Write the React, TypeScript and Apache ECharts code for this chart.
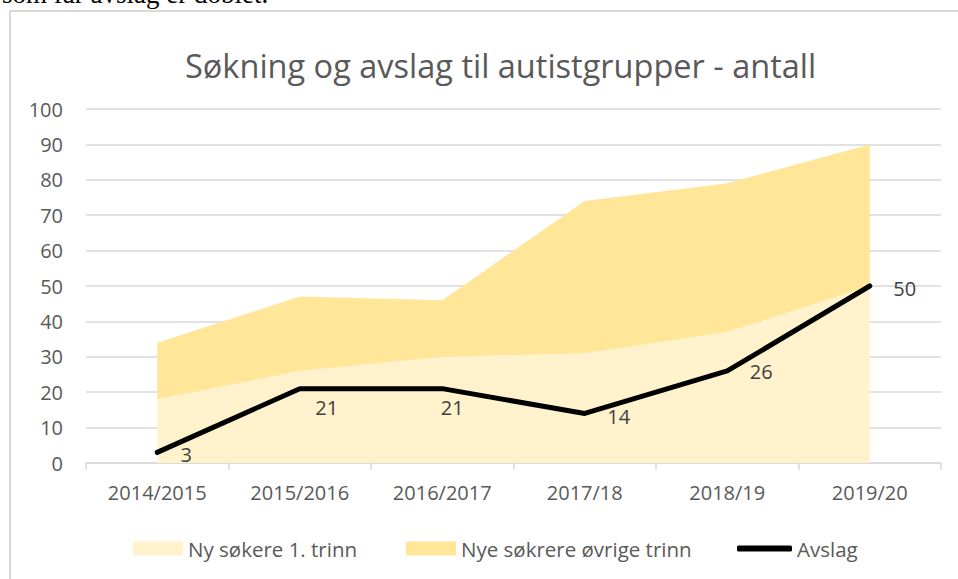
import React, { useEffect, useRef } from "react";
import * as echarts from "echarts";

const categories = ["2014/2015", "2015/2016", "2016/2017", "2017/18", "2018/19", "2019/20"];
const nySokere1Trinn = [18, 26, 30, 31, 37, 50];
const nyeSokrereOvrige = [16, 21, 16, 43, 42, 40];
const avslag = [3, 21, 21, 14, 26, 50];
const yTicks = { min: 0, max: 100, interval: 10 };

const titleText = "Søkning og avslag til autistgrupper - antall";
const seriesNames = ["Ny søkere 1. trinn", "Nye søkrere øvrige trinn", "Avslag"];
const aboveText = "som får avslag er doblet.";

// label offsets (style only)
const labelOffsets: [number, number][] = [
  [29, 2],
  [27, 19],
  [10, 19],
  [34, 3],
  [34, 1],
  [35, 2],
];

const FONT = "Open Sans";
const GRAY = "#595959";
const GRID = "#d9d9d9";

export default function App() {
  const ref = useRef<HTMLDivElement>(null);
  useEffect(() => {
    if (!ref.current) return;
    const chart = echarts.init(ref.current, null, { renderer: "svg" });
    const legendText = { color: GRAY, fontSize: 20.5, fontFamily: FONT, padding: [0, 0, 0, 0] };
    chart.setOption({
      animation: false,
      backgroundColor: "#ffffff",
      textStyle: { fontFamily: FONT },
      title: {
        text: titleText,
        left: 185,
        top: 49,
        padding: 0,
        textStyle: { color: GRAY, fontSize: 32.5, fontWeight: "normal", fontFamily: FONT },
      },
      graphic: [
        {
          type: "rect",
          shape: { x: 10, y: 11, width: 1000, height: 600 },
          style: { fill: "none", stroke: GRID, lineWidth: 2 },
          silent: true,
          z: -1,
        },
        {
          type: "text",
          x: 2,
          y: 7,
          style: {
            text: aboveText,
            font: '27px "Liberation Serif", serif',
            fill: "#000",
            textVerticalAlign: "bottom",
          },
          silent: true,
        },
      ],
      legend: [
        {
          data: [{ name: seriesNames[0], icon: "rect" }],
          left: 133,
          top: 538,
          padding: 0,
          itemWidth: 50,
          itemHeight: 14,
          itemGap: 0,
          textStyle: legendText,
        },
        {
          data: [{ name: seriesNames[1], icon: "rect" }],
          left: 406,
          top: 538,
          padding: 0,
          itemWidth: 50,
          itemHeight: 14,
          itemGap: 0,
          textStyle: legendText,
        },
        {
          data: [{ name: seriesNames[2], icon: "roundRect" }],
          left: 737,
          top: 538,
          padding: 0,
          itemWidth: 55,
          itemHeight: 6,
          itemGap: 0,
          itemStyle: { color: "#000000" },
          textStyle: { ...legendText },
        },
      ],
      grid: { left: 86, right: 17, top: 109, bottom: 116, containLabel: false },
      xAxis: {
        type: "category",
        data: categories,
        boundaryGap: true,
        axisLine: { lineStyle: { color: GRID, width: 1.5 } },
        axisTick: { show: true, length: 7, alignWithLabel: false, lineStyle: { color: GRID, width: 1.5 } },
        axisLabel: { color: GRAY, fontSize: 20, margin: 19, fontFamily: FONT },
      },
      yAxis: {
        type: "value",
        min: yTicks.min,
        max: yTicks.max,
        interval: yTicks.interval,
        axisLine: { show: false },
        axisTick: { show: false },
        axisLabel: { color: GRAY, fontSize: 20, margin: 23, fontFamily: FONT },
        splitLine: { lineStyle: { color: GRID, width: 1.5 } },
      },
      series: [
        {
          name: seriesNames[0],
          type: "line",
          stack: "total",
          data: nySokere1Trinn,
          symbol: "none",
          lineStyle: { width: 0 },
          itemStyle: { color: "#FFF2CC" },
          areaStyle: { color: "#FFF2CC", opacity: 1 },
          z: 1,
        },
        {
          name: seriesNames[1],
          type: "line",
          stack: "total",
          data: nyeSokrereOvrige,
          symbol: "none",
          lineStyle: { width: 0 },
          itemStyle: { color: "#FFE699" },
          areaStyle: { color: "#FFE699", opacity: 1 },
          z: 1,
        },
        {
          name: seriesNames[2],
          type: "line",
          data: avslag.map((v, i) => ({
            value: v,
            label: { offset: labelOffsets[i] },
          })),
          symbol: "circle",
          symbolSize: 2,
          showSymbol: true,
          itemStyle: { color: "#000000" },
          lineStyle: { color: "#000000", width: 5, cap: "round", join: "round" },
          label: {
            show: true,
            position: "inside",
            color: "#404040",
            fontSize: 20,
            fontFamily: FONT,
          },
          z: 3,
        },
      ],
    });
    return () => chart.dispose();
  }, []);
  return (
    <div
      ref={ref}
      style={{ position: "absolute", left: 0, top: 0, width: 958, height: 579 }}
    />
  );
}
